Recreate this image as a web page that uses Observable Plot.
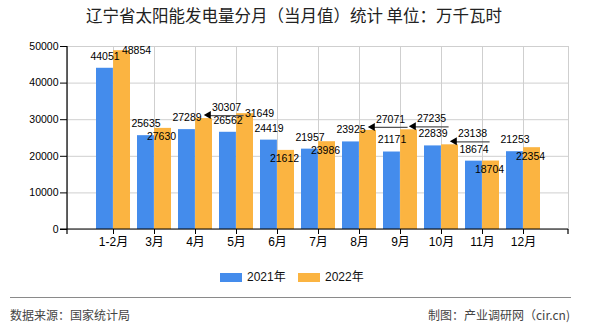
<!DOCTYPE html>
<html>
<head>
<meta charset="utf-8">
<script src="https://cdn.jsdelivr.net/npm/d3@7"></script>
<script src="https://cdn.jsdelivr.net/npm/@observablehq/plot@0.6"></script>
<style>
  html, body { margin: 0; padding: 0; background: #fff; }
  #wrap { position: relative; width: 590px; height: 330px; overflow: hidden; font-family: "Noto Sans CJK SC", "Liberation Sans", sans-serif; }
  #chart { position: absolute; left: 0; top: 0; }
  .title { position: absolute; left: 0; top: 4px; width: 588px; text-align: center; font-size: 16.5px; color: #222; line-height: 22px; }
  .legend { position: absolute; top: 268px; font-size: 12px; color: #111; line-height: 18px; font-family: "Liberation Sans", "Noto Sans CJK SC", sans-serif; }
  .sw { position: absolute; width: 22px; height: 9px; }
  .foot { position: absolute; top: 306px; font-size: 12px; color: #444; line-height: 18px; }
  .sep { position: absolute; left: 10px; top: 297px; width: 561px; height: 0; border-top: 1.5px solid #8a8a8a; }
</style>
</head>
<body>
<div id="wrap">
  <div id="chart"></div>
  <div class="title">辽宁省太阳能发电量分月（当月值）统计 单位：万千瓦时</div>
  <div id="legend"></div>
  <div class="sep"></div>
  <div class="foot" style="left:10px">数据来源：国家统计局</div>
  <div class="foot" style="right:20px">制图：产业调研网（cir.cn)</div>
</div>
<script>
// ---- data ----
const months = ["1-2月", "3月", "4月", "5月", "6月", "7月", "8月", "9月", "10月", "11月", "12月"];
const series = ["2021年", "2022年"];
const values2021 = [44051, 25635, 27289, 26562, 24419, 21957, 23925, 21171, 22839, 18674, 21253];
const values2022 = [48854, 27630, 30307, 31649, 21612, 23986, 27071, 27235, 23138, 18704, 22354];
const yTicks = [0, 10000, 20000, 30000, 40000, 50000];

// label placement for 2022 values (as in the reference, where labels were moved to avoid overlap)
const placement2022 = ["right", "inside", "leader", "right", "inside", "inside", "leader", "leader", "leader", "inside", "inside"];

const colors = ["#448CEC", "#FBB441"];

const d2021 = months.map((m, i) => ({month: m, value: values2021[i]}));
const d2022 = months.map((m, i) => ({month: m, value: values2022[i], mode: placement2022[i]}));

const font = "'Liberation Sans', 'Noto Sans CJK SC', sans-serif";
const half = 17.1;

function axisLines(index, scales, values, dims) {
  const g = d3.create("svg:g").attr("stroke", "#000").attr("stroke-width", 1.2);
  const l = dims.marginLeft, r = dims.width - dims.marginRight;
  const t = dims.marginTop, b = dims.height - dims.marginBottom;
  g.append("line").attr("x1", l).attr("x2", l).attr("y1", t).attr("y2", b);
  g.append("line").attr("x1", l - 7).attr("x2", r).attr("y1", b).attr("y2", b);
  g.append("line").attr("x1", l).attr("x2", l).attr("y1", b).attr("y2", b + 5);
  g.append("line").attr("x1", r).attr("x2", r).attr("y1", b).attr("y2", b + 5);
  return g.node();
}

const chart = Plot.plot({
  width: 590,
  height: 330,
  marginLeft: 67,
  marginRight: 22,
  marginTop: 46,
  marginBottom: 101,
  style: {fontFamily: font, fontSize: "10.5px", color: "#000", background: "transparent"},
  x: {domain: months, paddingInner: 0.18, paddingOuter: 0.59, label: null},
  y: {domain: [0, 50000], label: null},
  marks: [
    Plot.frame({stroke: "#cfcfcf"}),
    Plot.gridY(yTicks, {stroke: "#cfcfcf", strokeOpacity: 1}),
    Plot.gridX({stroke: "#cfcfcf", strokeOpacity: 1}),
    Plot.barY(d2021, {x: "month", y: "value", fill: colors[0], insetRight: half}),
    Plot.barY(d2022, {x: "month", y: "value", fill: colors[1], insetLeft: half}),
    Plot.axisY({ticks: yTicks, tickSize: 7, tickPadding: 2, tickFormat: d3.format("d"), fontSize: 10.5, label: null}),
    Plot.axisX({tickSize: 5, tickPadding: 3, fontSize: 12, label: null}),
    axisLines,
    // 2021 labels above bars
    Plot.text(d2021, {x: "month", y: "value", text: d => String(d.value), dx: -8.5, dy: -12, fill: "#000", fontSize: 10.5}),
    // 2022 labels
    Plot.text(d2022.filter(d => d.mode === "right"), {x: "month", y: "value", text: d => String(d.value), dx: 23, dy: 0, fill: "#000", fontSize: 10.5}),
    Plot.text(d2022.filter(d => d.mode === "inside"), {x: "month", y: "value", text: d => String(d.value), dx: 7, dy: 8.5, fill: "#000", fontSize: 10.5}),
    Plot.text(d2022.filter(d => d.mode === "leader"), {x: "month", y: "value", text: d => String(d.value), dx: 31, dy: -11, fill: "#000", fontSize: 10.5}),
    Plot.tickY(d2022.filter(d => d.mode === "leader"), {x: "month", y: "value", dx: 29.6, dy: -3, stroke: "#555", strokeWidth: 1.3, insetRight: -2}),
    Plot.dot(d2022.filter(d => d.mode === "leader"), {x: "month", y: "value", dx: 13, dy: -3.5, symbol: "triangle", r: 3, fill: "#000", stroke: null, rotate: -90})
  ]
});
document.getElementById("chart").appendChild(chart);

// legend
const legend = document.getElementById("legend");
const legendPos = [{sw: 220, tx: 247}, {sw: 298, tx: 325}];
series.forEach((s, i) => {
  const sw = document.createElement("div");
  sw.className = "sw";
  sw.style.left = legendPos[i].sw + "px";
  sw.style.top = "273px";
  sw.style.background = colors[i];
  legend.appendChild(sw);
  const tx = document.createElement("div");
  tx.className = "legend";
  tx.style.left = legendPos[i].tx + "px";
  tx.textContent = s;
  legend.appendChild(tx);
});
</script>
</body>
</html>
